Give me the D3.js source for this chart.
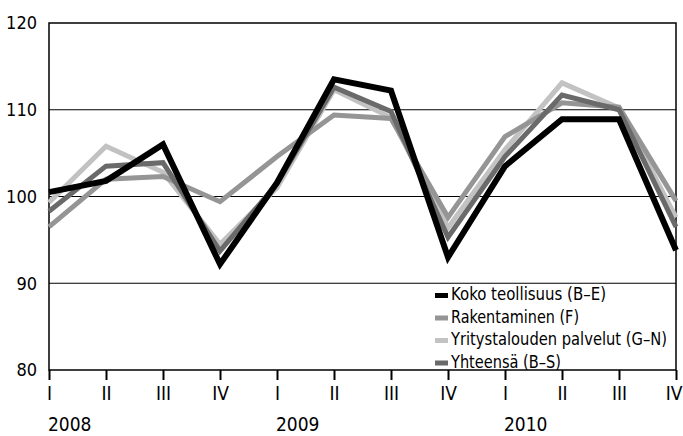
<!DOCTYPE html>
<meta charset="utf-8">
<script src="https://d3js.org/d3.v7.min.js"></script>
<style>
  body { margin: 0; background: #fff; }
  text { font-family: "DejaVu Sans Condensed", "DejaVu Sans", sans-serif; font-stretch: condensed; fill: #000; }
</style>
<div id="my_dataviz"></div>
<script>

// quarters 2008 I .. 2010 IV
var quarters = ["I", "II", "III", "IV", "I", "II", "III", "IV", "I", "II", "III", "IV"];
var years = ["2008", "2009", "2010"];
var yTicks = [80, 90, 100, 110, 120];

var seriesNames = ["Koko teollisuus (B\u2013E)", "Rakentaminen (F)", "Yritystalouden palvelut (G\u2013N)", "Yhteensä (B\u2013S)"];
// widths of the legend texts as printed (condensed face)
var legendWidths = [155, 128, 216, 110];

var teollisuus = [100.5, 101.8, 106.0, 92.2, 101.6, 113.5, 112.2, 93.0, 103.5, 108.9, 108.9, 93.8];
var rakentaminen = [96.5, 102.0, 102.3, 99.4, 104.6, 109.4, 109.0, 97.6, 106.9, 110.8, 110.3, 99.5];
var palvelut = [99.3, 105.8, 102.8, 94.5, 101.0, 112.3, 109.1, 96.4, 105.4, 113.1, 110.2, 97.6];
var yhteensa = [98.3, 103.5, 103.9, 93.7, 101.5, 112.6, 109.8, 95.3, 104.6, 111.7, 110.0, 96.5];

// set the dimensions and margins of the graph
var margin = {top: 23, right: 7, bottom: 66, left: 49},
    width = 683 - margin.left - margin.right,
    height = 436 - margin.top - margin.bottom;

var svg = d3.select("#my_dataviz")
  .append("svg")
    .attr("width", 683)
    .attr("height", 436)
  .append("g")
    .attr("transform", "translate(" + margin.left + "," + margin.top + ")");

var x = d3.scalePoint()
  .domain(d3.range(quarters.length))
  .range([0, width]);

var y = d3.scaleLinear()
  .domain([80, 120])
  .range([height, 0]);

// gridlines
svg.selectAll(".grid")
  .data([90, 100, 110])
  .enter()
  .append("line")
    .attr("x1", 0)
    .attr("x2", width)
    .attr("y1", function(d) { return y(d); })
    .attr("y2", function(d) { return y(d); })
    .attr("stroke", "#000")
    .attr("stroke-width", 1.2);

// frame
svg.append("rect")
  .attr("x", 0)
  .attr("y", 0)
  .attr("width", width)
  .attr("height", height)
  .attr("fill", "none")
  .attr("stroke", "#000")
  .attr("stroke-width", 1.5);

// Y axis
var yAxis = svg.append("g")
  .call(d3.axisLeft(y).tickValues(yTicks).tickSize(0).tickPadding(12));
yAxis.select(".domain").remove();
yAxis.selectAll("text").style("font-size", "18px");

// X axis
var xAxis = svg.append("g")
  .attr("transform", "translate(0," + height + ")")
  .call(d3.axisBottom(x).tickSize(10).tickPadding(7).tickFormat(function(i) { return quarters[i]; }));
xAxis.select(".domain").remove();
xAxis.selectAll("line").attr("stroke", "#000").attr("stroke-width", 2);
xAxis.selectAll("text").style("font-size", "19px");
// last label sits against the right edge
xAxis.selectAll("text").filter(function(i) { return i == quarters.length - 1; })
  .attr("text-anchor", "end")
  .attr("dx", "6");

// year labels
svg.selectAll(".year")
  .data(years)
  .enter()
  .append("text")
    .attr("x", function(d, i) { return x(i * 4) - 1; })
    .attr("y", height + 61)
    .style("font-size", "19px")
    .text(function(d) { return d; });

// lines
var line = d3.line()
  .x(function(d, i) { return x(i); })
  .y(function(d) { return y(d); });

var lines = [
  {values: palvelut, color: "#c2c2c2", width: 5},
  {values: rakentaminen, color: "#959595", width: 5},
  {values: yhteensa, color: "#6a6a6a", width: 5},
  {values: teollisuus, color: "#000", width: 6}
];

svg.selectAll(".series")
  .data(lines)
  .enter()
  .append("path")
    .attr("d", function(d) { return line(d.values); })
    .attr("fill", "none")
    .attr("stroke", function(d) { return d.color; })
    .attr("stroke-width", function(d) { return d.width; })
    .attr("stroke-linejoin", "miter");

// legend
var legendColors = ["#000", "#959595", "#c2c2c2", "#6a6a6a"];
var legend = svg.append("g")
  .attr("transform", "translate(386,277)");

legend.selectAll("rect")
  .data(seriesNames)
  .enter()
  .append("rect")
    .attr("x", 0)
    .attr("y", function(d, i) { return i * 22.5 - 7; })
    .attr("width", 13)
    .attr("height", 5)
    .attr("fill", function(d, i) { return legendColors[i]; });

legend.selectAll("text")
  .data(seriesNames)
  .enter()
  .append("text")
    .attr("x", 16)
    .attr("y", function(d, i) { return i * 22.5; })
    .attr("textLength", function(d, i) { return legendWidths[i]; })
    .attr("lengthAdjust", "spacingAndGlyphs")
    .style("font-size", "17.5px")
    .text(function(d) { return d; });

</script>
